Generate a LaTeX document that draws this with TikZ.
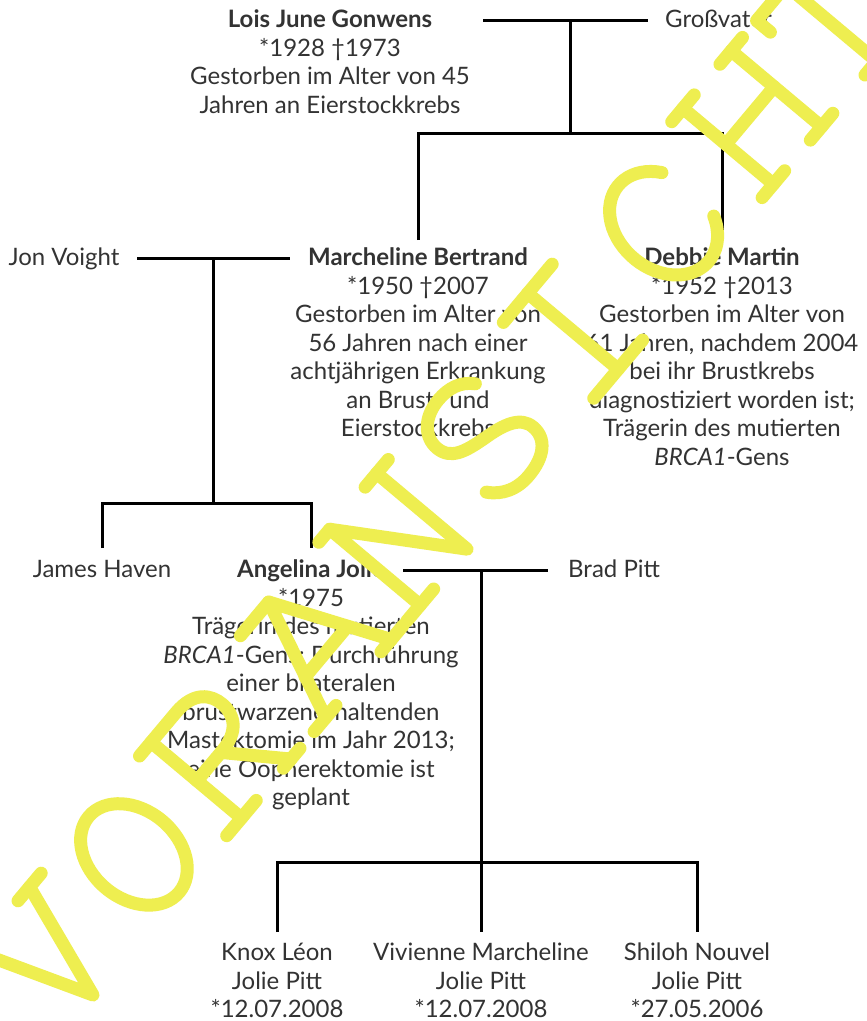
\documentclass[tikz,border=0pt]{standalone}
\usepackage{fontspec}
\setmainfont{Lato}
\definecolor{txt}{HTML}{333333}
\definecolor{wmy}{RGB}{238,238,80}
\newcommand\firstl{\rule{0pt}{20pt}}
\begin{document}
\begin{tikzpicture}[x=1pt,y=-1pt,
  person/.style={align=center, inner sep=0pt, anchor=north, text=txt, font=\fontsize{24}{28.5}\selectfont},
  conn/.style={line width=3pt, draw=black, line join=miter},
  wm/.style={draw=wmy, line width=13pt, line cap=round, line join=round}]
\useasboundingbox[fill=white] (0,0) rectangle (867,1021);

% ---------- people ----------
\node[person] (lois) at (330,7.5) {\firstl\textbf{Lois June Gonwens}\\{}*1928 †1973\\Gestorben im Alter von 45\\Jahren an Eierstockkrebs};
\node[person, anchor=north west] (gv) at (665,7.5) {\firstl Großvater};
\node[person] (jon) at (64,245.5) {\firstl Jon Voight};
\node[person] (mb) at (418,245.5) {\firstl\textbf{Marcheline Bertrand}\\{}*1950 †2007\\Gestorben im Alter von\\56 Jahren nach einer\\achtjährigen Erkrankung\\an Brust- und\\Eierstockkrebs};
\node[person] (dm) at (722,245.5) {\firstl\textbf{Debbie Martin}\\{}*1952 †2013\\Gestorben im Alter von\\61 Jahren, nachdem 2004\\bei ihr Brustkrebs\\diagnostiziert worden ist;\\Trägerin des mutierten\\\textit{BRCA1}-Gens};
\node[person] (jh) at (102,557.5) {\firstl James Haven};
\node[person] (aj) at (311,557.5) {\firstl\textbf{Angelina Jolie}\\{}*1975\\Trägerin des mutierten\\\textit{BRCA1}-Gens; Durchführung\\einer bilateralen\\brustwarzenerhaltenden\\Mastektomie im Jahr 2013;\\eine Oopherektomie ist\\geplant};
\node[person, anchor=north west] (bp) at (568,557.5) {\firstl Brad Pitt};
\node[person] (kl) at (277,940.5) {\firstl Knox Léon\\Jolie Pitt\\{}*12.07.2008};
\node[person] (vm) at (481,940.5) {\firstl Vivienne Marcheline\\Jolie Pitt\\{}*12.07.2008};
\node[person] (sn) at (697,940.5) {\firstl Shiloh Nouvel\\Jolie Pitt\\{}*27.05.2006};

% ---------- connector points ----------
\coordinate (c1l) at (483,20);  \coordinate (c1r) at (648,20);
\coordinate (c1m) at (570,20);  \coordinate (c1b) at (570,133);
\coordinate (c1a) at (418,240); \coordinate (c1al) at (418,133);
\coordinate (c1d) at (722,240); \coordinate (c1dr) at (722,133);

\coordinate (c2l) at (137,258); \coordinate (c2r) at (290,258);
\coordinate (c2m) at (213,258); \coordinate (c2b) at (213,503);
\coordinate (c2j) at (102,548); \coordinate (c2jl) at (102,503);
\coordinate (c2a) at (311,548); \coordinate (c2ar) at (311,503);

\coordinate (c3l) at (403,570); \coordinate (c3r) at (548,570);
\coordinate (c3m) at (481,570); \coordinate (c3b) at (481,862);
\coordinate (c3k) at (277,932); \coordinate (c3kl) at (277,862);
\coordinate (c3v) at (481,932);
\coordinate (c3s) at (697,932); \coordinate (c3sr) at (697,862);

\draw[conn] (c1l) -- (c1r);
\draw[conn] (c1m) -- (c1b);
\draw[conn] (c1a) -- (c1al) -- (c1dr) -- (c1d);
\draw[conn] (c2l) -- (c2r);
\draw[conn] (c2m) -- (c2b);
\draw[conn] (c2j) -- (c2jl) -- (c2ar) -- (c2a);
\draw[conn] (c3l) -- (c3r);
\draw[conn] (c3m) -- (c3v);
\draw[conn] (c3k) -- (c3kl) -- (c3sr) -- (c3s);

% ---------- watermark ----------
\begin{scope}[shift={(93,995)}, rotate=50, y=1pt]
  % V
  \begin{scope}[shift={(0,0)}]
    \draw[wm] (-42,118) -- (0,0) -- (42,118);
    \draw[wm] (-60,118) -- (-24,118);
    \draw[wm] (24,118) -- (60,118);
  \end{scope}
  % O
  \begin{scope}[shift={(134,0)}]
    \draw[wm] (0,59) ellipse [x radius=44, y radius=59];
  \end{scope}
  % R
  \begin{scope}[shift={(268,0)}]
    \draw[wm] (-37,0) -- (-37,118);
    \draw[wm] (-55,118) -- (-37,118) -- (2,118) .. controls (30,118) and (38,102) .. (38,88) .. controls (38,72) and (28,58) .. (2,58) -- (-37,58);
    \draw[wm] (0,58) -- (40,0);
    \draw[wm] (-60,0) -- (-14,0);
    \draw[wm] (28,0) -- (54,0);
  \end{scope}
  % A
  \begin{scope}[shift={(412,0)}]
    \draw[wm] (-50,0) -- (2,118) -- (52,0);
    \draw[wm] (-42,118) -- (2,118);
    \draw[wm] (-32,42) -- (34,42);
    \draw[wm] (-68,0) -- (-34,0);
    \draw[wm] (36,0) -- (70,0);
  \end{scope}
  % N
  \begin{scope}[shift={(546,0)}]
    \draw[wm] (-37,0) -- (-37,118) -- (36,0) -- (36,118);
    \draw[wm] (-58,0) -- (-16,0);
    \draw[wm] (-54,118) -- (-37,118);
    \draw[wm] (18,118) -- (54,118);
  \end{scope}
  % S
  \begin{scope}[shift={(678,0)}]
    \draw[wm] (36,100) .. controls (28,113) and (15,118) .. (0,118) .. controls (-24,118) and (-38,104) .. (-38,88) .. controls (-38,70) and (-22,64) .. (0,58) .. controls (24,52) and (40,44) .. (40,28) .. controls (40,10) and (24,0) .. (0,0) .. controls (-18,0) and (-32,8) .. (-40,22);
  \end{scope}
  % I
  \begin{scope}[shift={(817,0)}]
    \draw[wm] (0,0) -- (0,118);
    \draw[wm] (-38,0) -- (38,0);
    \draw[wm] (-38,118) -- (38,118);
  \end{scope}
  % C
  \begin{scope}[shift={(958,0)}]
    \draw[wm] ([shift={(0,59)}]35:46 and 59) arc [start angle=35, end angle=325, x radius=46, y radius=59];
  \end{scope}
  % H
  \begin{scope}[shift={(1096,0)}]
    \draw[wm] (-37.5,0) -- (-37.5,118);
    \draw[wm] (37.5,0) -- (37.5,118);
    \draw[wm] (-37.5,62) -- (37.5,62);
    \draw[wm] (-55,0) -- (-20,0);
    \draw[wm] (-55,118) -- (-20,118);
    \draw[wm] (20,0) -- (55,0);
    \draw[wm] (20,118) -- (55,118);
  \end{scope}
  % T
  \begin{scope}[shift={(1219,0)}]
    \draw[wm] (0,0) -- (0,118);
    \draw[wm] (-46,100) -- (-46,118) -- (46,118) -- (46,100);
    \draw[wm] (-18,0) -- (18,0);
  \end{scope}
\end{scope}
\end{tikzpicture}
\end{document}
